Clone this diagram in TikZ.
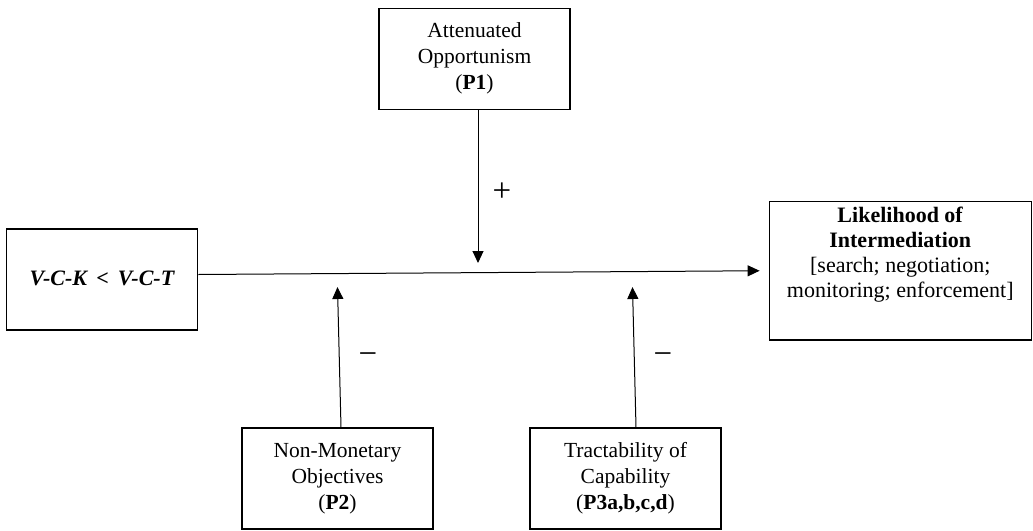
\documentclass[tikz,border=0pt]{standalone}
\usepackage{fontspec}
\setmainfont{Liberation Serif}
\usetikzlibrary{arrows.meta}
\begin{document}
\begin{tikzpicture}[x=1pt,y=-1pt,
  box/.style={draw=black, line width=1.3pt, minimum width=191pt, minimum height=101pt,
    inner sep=0pt, align=center, font=\fontsize{21.5}{26}\selectfont},
  bigbox/.style={draw=black, line width=1.3pt, minimum width=262pt, minimum height=138.5pt, inner sep=0pt},
  boxtext/.style={inner sep=0pt, align=center, font=\fontsize{22}{25}\selectfont},
  arr/.style={line width=1pt, draw=black, -{Triangle[length=12pt,width=11pt]}},
  sign/.style={inner sep=0pt, font=\fontsize{33}{35}\selectfont}]
\useasboundingbox (0,0) rectangle (1033,530);

\node[box] (p1) at (474.5,58.75) {Attenuated\\Opportunism\\(\textbf{P1})};
\node[box, font=\fontsize{22}{26}\selectfont] (vck) at (102.3,279.5) {\raisebox{3pt}{\textbf{\textit{V-C-K \,<\, V-C-T}}}};
\node[bigbox] (out) at (900.25,270.75) {};
\node[boxtext, anchor=north] (outtxt) at (900.25,207) {\textbf{Likelihood of}\\\textbf{Intermediation}\\{}[search; negotiation;\\monitoring; enforcement]};
\node[box] (p2) at (337.5,478.5) {Non-Monetary\\Objectives\\(\textbf{P2})};
\node[box] (p3) at (625.5,478.5) {Tractability of\\Capability\\(\textbf{P3a,b,c,d})};

\coordinate (j1) at (478,263);
\coordinate (j2) at (337.5,287);
\coordinate (j3) at (632.5,287);

\draw[arr] ([yshift=5pt]vck.east) -- ([xshift=-9pt]out.west);
\draw[arr] (j1 |- p1.south) -- (j1);
\draw[arr] ([xshift=3.5pt]p2.north) -- (j2);
\draw[arr] ([xshift=10.5pt]p3.north) -- (j3);

\node[sign] (plus) at (502,192) {+};
\node[sign] (m1) at (368,359) {−};
\node[sign] (m2) at (663,359) {−};
\end{tikzpicture}
\end{document}
